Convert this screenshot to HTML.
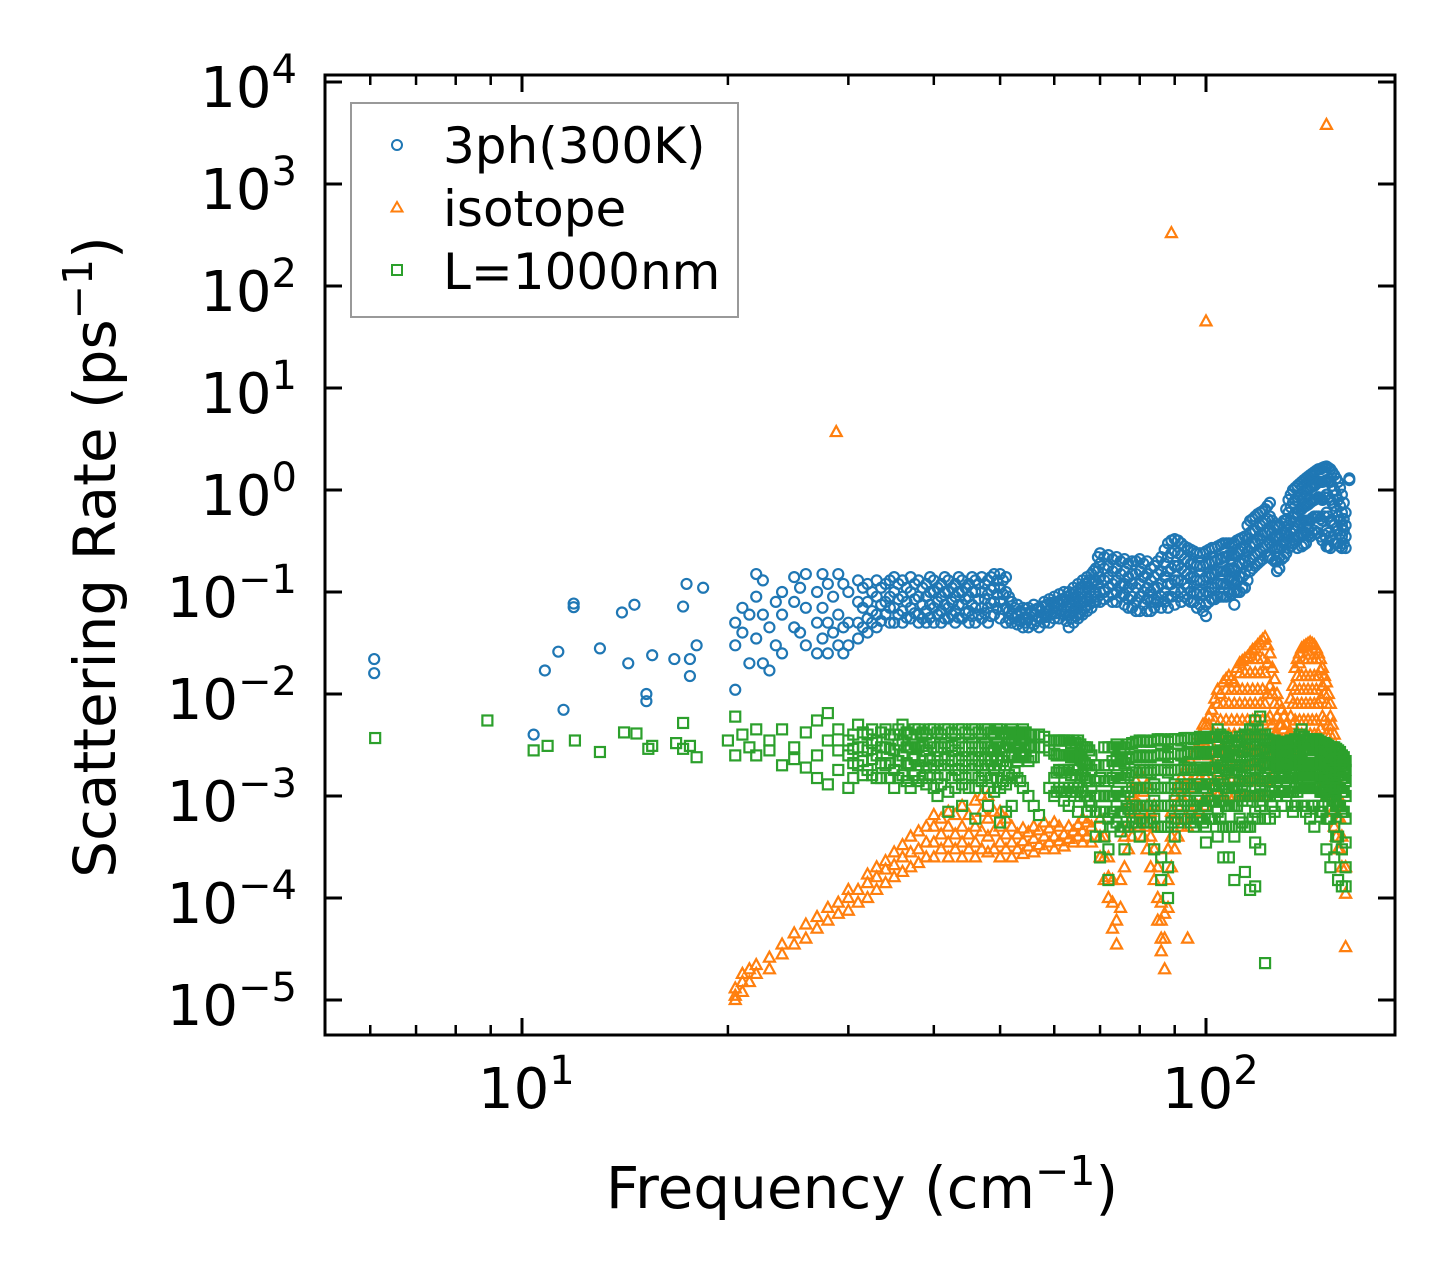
<!DOCTYPE html>
<html><head><meta charset="utf-8"><style>
html,body{margin:0;padding:0;background:#fff;}
svg{display:block;font-family:"DejaVu Sans","Liberation Sans",sans-serif;}
</style></head><body>
<svg id="chart" width="1455" height="1284" viewBox="0 0 1455 1284" xmlns="http://www.w3.org/2000/svg">
<g id="marks"></g>
<g id="axes"></g>
<g id="legend">
<rect x="351" y="103" width="387" height="214" fill="#fff" fill-opacity="0.8" stroke="#999" stroke-width="2"/>
<g><circle cx="397" cy="145" r="5" fill="none" stroke="#1f77b4" stroke-width="2"/><text x="443" y="163" font-size="50">3ph(300K)</text></g>
<g><path d="M397,202 L402.5,211.5 L391.5,211.5 Z" fill="none" stroke="#ff7f0e" stroke-width="2"/><text x="443" y="226" font-size="50">isotope</text></g>
<g><rect x="392" y="265" width="10" height="10" fill="none" stroke="#2ca02c" stroke-width="2"/><text x="443" y="289" font-size="50">L=1000nm</text></g>
</g>
<text x="862" y="1208" font-size="58" text-anchor="middle">Frequency (cm<tspan dy="-23" font-size="41">−1</tspan><tspan dy="23">)</tspan></text>
<text transform="translate(115,557) rotate(-90)" font-size="58" text-anchor="middle">Scattering Rate (ps<tspan dy="-23" font-size="41">−1</tspan><tspan dy="23">)</tspan></text>
</svg>
<script>
const blueData = [[6.08,[0.022,0.016]],[10.4,[0.004]],[10.8,[0.017]],[11.3,[0.026]],[11.5,[0.007]],[11.9,[0.077,0.071]],[13,[0.028]],[14,[0.063]],[14.3,[0.02]],[14.6,[0.075]],[15.2,[0.01,0.0085]],[15.5,[0.024]],[16.7,[0.022]],[17.2,[0.072]],[17.4,[0.12]],[17.6,[0.022,0.015]],[18,[0.03]],[18.4,[0.11]],
[20.5,[0.011,0.03,0.05]],[21,[0.04,0.07]],[21.5,[0.02,0.06]],[22,[0.035,0.15,0.09]],[22.5,[0.06,0.13,0.02]],[23,[0.017,0.045]],[23.5,[0.08,0.03]],[24,[0.06,0.1,0.025]],[25,[0.14,0.045,0.08]],[25.5,[0.11,0.04]],[26,[0.15,0.07,0.03]],[27,[0.1,0.05,0.025]],[27.5,[0.15,0.07,0.035]],[28,[0.12,0.025,0.05]],[28.5,[0.09,0.04]],[29,[0.15,0.06,0.03]],[29.5,[0.12,0.045,0.025]],[30,[0.1,0.05,0.03]],[31,[0.13,0.08,0.05,0.035]],[32,[0.12,0.08,0.055,0.04]],[33,[0.13,0.09,0.06,0.045]],[34,[0.12,0.08,0.06]],[35,[0.14,0.1,0.07,0.05]],[36,[0.13,0.09,0.065,0.05]],[37,[0.14,0.1,0.07,0.055]],[38,[0.13,0.09,0.06,0.05]],[39,[0.12,0.09,0.065,0.05]],[40,[0.13,0.1,0.07,0.05]],[41,[0.12,0.09,0.065,0.05]],[42,[0.13,0.1,0.07,0.055]],[43,[0.12,0.09,0.065,0.05]],[44,[0.13,0.1,0.075,0.055]],[45,[0.12,0.09,0.065,0.05]],[46,[0.13,0.1,0.07,0.05]],[47,[0.14,0.1,0.07,0.055]],[48,[0.13,0.095,0.07,0.05]],[49,[0.15,0.11,0.08,0.06]],[50,[0.15,0.11,0.08,0.055]],[51,[0.14,0.1,0.07,0.05]],[52,[0.08,0.06,0.05]],[53,[0.075,0.06,0.048]],[54,[0.07,0.055,0.045]],[55,[0.07,0.055,0.045]],[56,[0.075,0.06,0.048]],[57,[0.07,0.055,0.045]],[58,[0.08,0.062,0.05]],[59,[0.085,0.065,0.05]],[60,[0.09,0.07,0.055]],[61,[0.095,0.075,0.055]],[62,[0.1,0.08,0.06]],[63,[0.1,0.08,0.06,0.045]],[64,[0.11,0.085,0.065,0.05]],[65,[0.12,0.09,0.07,0.055]],[66,[0.13,0.1,0.08,0.06]],[67,[0.14,0.11,0.085,0.065]],[68,[0.15,0.12,0.09,0.07]],[69,[0.17,0.13,0.1,0.08]],[70,[0.24,0.19,0.14,0.1,0.08]],[72,[0.23,0.18,0.14,0.11,0.09]],[74,[0.22,0.17,0.13,0.1,0.08]],[76,[0.21,0.16,0.12,0.095,0.075]],[78,[0.2,0.15,0.12,0.09,0.07]],[80,[0.21,0.16,0.12,0.09,0.065]],[82,[0.2,0.15,0.11,0.085,0.065]],[84,[0.18,0.14,0.11,0.085,0.07]],[86,[0.22,0.16,0.12,0.09,0.07]],[88,[0.3,0.22,0.16,0.12,0.09,0.07]],[90,[0.33,0.25,0.18,0.13,0.1,0.075]],[92,[0.3,0.23,0.17,0.13,0.1,0.08]],[94,[0.27,0.2,0.15,0.11,0.085]],[96,[0.25,0.19,0.14,0.1,0.08]],[98,[0.24,0.18,0.13,0.1,0.075]],[100,[0.25,0.19,0.14,0.1,0.075,0.058]],[102,[0.27,0.2,0.15,0.11,0.085]],[104,[0.28,0.21,0.16,0.12,0.09]],[106,[0.3,0.22,0.16,0.12,0.09]],[108,[0.3,0.23,0.17,0.13,0.1]],[110,[0.3,0.23,0.17,0.13,0.1,0.075]],[112,[0.33,0.25,0.19,0.14,0.1]],[114,[0.35,0.27,0.2,0.15,0.11]],[116,[0.5,0.38,0.28,0.21,0.16]],[118,[0.55,0.4,0.3,0.23,0.18]],[120,[0.6,0.45,0.33,0.25,0.2]],[122,[0.65,0.5,0.38,0.28]],[124,[0.75,0.55,0.4,0.3,0.22]],[126,[0.45,0.35,0.27,0.2]],[128,[0.45,0.35,0.27,0.22,0.17]],[130,[0.5,0.38,0.3,0.22]],[132,[0.8,0.6,0.45,0.35,0.27]],[134,[1.0,0.75,0.55,0.4,0.3]],[136,[1.1,0.85,0.6,0.45,0.35,0.27]],[138,[1.2,0.9,0.65,0.48,0.36,0.28]],[140,[1.3,1.0,0.7,0.5,0.38,0.3]],[142,[1.4,1.05,0.75,0.5,0.35]],[144,[1.5,1.1,0.8,0.55,0.4]],[146,[1.6,1.2,0.85,0.55,0.38]],[148,[1.65,1.2,0.8,0.5,0.32]],[150,[1.7,1.25,0.9,0.6,0.4,0.28]],[152,[1.6,1.2,0.8,0.5,0.35,0.27]],[154,[1.4,1.0,0.7,0.45,0.3]],[156,[1.2,0.8,0.55,0.4,0.3]],[158,[0.9,0.6,0.45,0.35,0.27]],[160,[0.6,0.45,0.35,0.27]],[162,[1.3,1.25]]];
const blueDataExtra = [[31.5,[0.11,0.07,0.045]],[32.5,[0.1,0.065,0.05]],[33.5,[0.11,0.075,0.052]],[34.5,[0.13,0.09,0.07,0.05]],[35.5,[0.12,0.085,0.06]],[36.5,[0.11,0.08,0.056]],[37.5,[0.12,0.085,0.062]],[38.5,[0.11,0.075,0.055]],[39.5,[0.14,0.1,0.075,0.056]],[40.5,[0.11,0.08,0.06]],[41.5,[0.14,0.1,0.075,0.055]],[42.5,[0.11,0.08,0.06]],[43.5,[0.14,0.1,0.075,0.056]],[44.5,[0.11,0.085,0.062]],[45.5,[0.14,0.1,0.075,0.058]],[46.5,[0.12,0.085,0.06]],[47.5,[0.12,0.085,0.062]],[48.5,[0.14,0.105,0.078,0.058]],[49.5,[0.13,0.095,0.07]],[50.5,[0.13,0.095,0.068]],[51.5,[0.09,0.065,0.055]],[52.5,[0.07,0.055]],[53.5,[0.065,0.052]],[54.5,[0.062,0.05]],[55.5,[0.065,0.05]],[56.5,[0.068,0.052]],[57.5,[0.072,0.055]],[58.5,[0.075,0.057]],[59.5,[0.078,0.06]],[60.5,[0.08,0.062]],[61.5,[0.085,0.065]],[62.5,[0.09,0.07,0.052]],[63.5,[0.095,0.072,0.055]],[64.5,[0.1,0.078,0.058]],[65.5,[0.11,0.08,0.062]],[66.5,[0.12,0.09,0.07]],[67.5,[0.13,0.1,0.075]],[68.5,[0.16,0.13,0.1,0.08]],[69.5,[0.22,0.16,0.12,0.09]],
[71,[0.22,0.17,0.13,0.1,0.085]],[73,[0.21,0.16,0.12,0.095,0.08]],[75,[0.2,0.15,0.115,0.09]],[77,[0.19,0.14,0.11,0.085,0.07]],[79,[0.2,0.15,0.11,0.08,0.065]],[81,[0.19,0.14,0.1,0.075]],[83,[0.17,0.13,0.1,0.08,0.065]],[85,[0.2,0.15,0.11,0.08]],[87,[0.26,0.19,0.14,0.1,0.08]],[89,[0.32,0.24,0.17,0.12,0.09]],[91,[0.32,0.24,0.18,0.13,0.09]],[93,[0.28,0.21,0.16,0.12,0.09]],[95,[0.26,0.19,0.14,0.1,0.08]],[97,[0.24,0.18,0.13,0.095,0.07]],[99,[0.24,0.18,0.13,0.095,0.065]],[101,[0.26,0.19,0.14,0.1,0.08]],[103,[0.27,0.2,0.15,0.11,0.085]],[105,[0.29,0.21,0.16,0.12,0.09]],[107,[0.3,0.22,0.16,0.12,0.09]],[109,[0.3,0.23,0.17,0.13,0.095]],[111,[0.32,0.24,0.18,0.13,0.1]],[113,[0.34,0.26,0.19,0.14,0.11]],[115,[0.45,0.33,0.25,0.18,0.13]],[117,[0.52,0.4,0.3,0.22,0.17]],[119,[0.58,0.43,0.32,0.24,0.19]],[121,[0.62,0.47,0.36,0.27,0.21]],[123,[0.7,0.52,0.39,0.29,0.22]],[125,[0.5,0.38,0.28,0.21]],[127,[0.45,0.35,0.27,0.2,0.16]],[129,[0.47,0.36,0.28,0.21]],[131,[0.65,0.5,0.38,0.3,0.24]],[133,[0.9,0.68,0.5,0.38,0.28]],[135,[1.05,0.8,0.58,0.42,0.32]],[137,[1.15,0.88,0.63,0.47,0.35]],[139,[1.25,0.95,0.68,0.5,0.37,0.29]],[141,[1.35,1.0,0.72,0.5,0.36]],[143,[1.45,1.08,0.78,0.53,0.38]],[145,[1.55,1.15,0.82,0.55,0.38]],[147,[1.6,1.2,0.82,0.52,0.35]],[149,[1.68,1.22,0.85,0.55,0.36]],[151,[1.65,1.22,0.85,0.55,0.38,0.28]],[153,[1.5,1.1,0.75,0.48,0.32]],[155,[1.3,0.9,0.62,0.42,0.3]],[157,[1.05,0.7,0.5,0.37,0.28]],[159,[0.75,0.52,0.4,0.3]]];
const orangeData = [[20.5,[1e-5,1.1e-5,1.3e-5]],[21,[1.2e-5,1.5e-5,1.8e-5]],[21.5,[1.5e-5,2e-5]],[22,[1.8e-5,2.2e-5]],[23,[2e-5,2.6e-5]],[24,[2.8e-5,3.5e-5]],[25,[3.5e-5,4.5e-5]],[26,[4e-5,5.5e-5]],[27,[5e-5,6.5e-5]],[28,[6e-5,8e-5]],[28.8,[3.7]],[29,[7e-5,9e-5]],[30,[7.5e-5,1e-4,1.2e-4]],[31,[9e-5,1.2e-4]],[32,[1e-4,1.4e-4,1.7e-4]],[33,[1.2e-4,1.6e-4,2e-4]],[34,[1.4e-4,1.9e-4,2.3e-4]],[35,[1.6e-4,2.1e-4,2.8e-4]],[36,[1.8e-4,2.5e-4,3.3e-4]],[37,[2e-4,2.8e-4,4e-4]],[38,[2.2e-4,3e-4,4.5e-4]],[39,[2.5e-4,3.5e-4,5e-4]],[40,[2.5e-4,3.5e-4,5e-4,6.5e-4]],[42,[2.5e-4,3.5e-4,5e-4,7e-4]],[44,[2.5e-4,3.5e-4,5e-4,8e-4]],[46,[2.5e-4,3.5e-4,5e-4,9e-4]],[48,[2.8e-4,4e-4,6e-4,1e-3]],[50,[2.5e-4,3.5e-4,5e-4,7e-4]],[52,[2.5e-4,3.5e-4,5e-4]],[54,[2.7e-4,3.6e-4,4.8e-4]],[56,[2.8e-4,3.8e-4,5e-4]],[58,[3e-4,4e-4,5.5e-4]],[60,[3e-4,4e-4,5.5e-4]],[62,[3.2e-4,4.2e-4]],[64,[3.5e-4,4.5e-4]],[66,[3.5e-4,4.5e-4,6e-4]],[68,[3.5e-4,5e-4]],[70,[2.5e-4,4e-4,6e-4]],[71,[1.5e-4,2.5e-4,4e-4]],[72,[1e-4,1.6e-4,2.5e-4]],[73,[5e-5,9e-5,1.5e-4]],[74,[3.5e-5,6e-5]],[75,[8e-5,1.5e-4]],[76,[2e-4,4e-4]],[78,[4e-4,7e-4,1e-3]],[80,[5e-4,8e-4,1.2e-3,1.7e-3]],[82,[3e-4,5e-4,8e-4,1.3e-3]],[84,[1.5e-4,3e-4,5e-4,8e-4]],[85,[6e-5,1e-4,2e-4]],[86,[3e-5,4e-5,6e-5,9e-5]],[87,[2e-5,4e-5,7e-5]],[88,[8e-5,1.5e-4,3e-4]],[89,[2e-4,4e-4,7e-4,330]],[90,[3e-4,6e-4,1e-3]],[92,[5e-4,1e-3,1.5e-3]],[94,[4e-5,5e-4,1e-3,2e-3]],[96,[6e-4,1.2e-3,2.5e-3]],[98,[7e-4,1.5e-3,3e-3,4e-3]],[100,[8e-4,1.5e-3,3e-3,5e-3,45]],[102,[1e-3,2e-3,4e-3,7e-3]],[104,[1e-3,2e-3,4e-3,8e-3,1.1e-2]],[106,[1e-3,2e-3,4e-3,8e-3,1.3e-2]],[108,[1e-3,2e-3,4e-3,8e-3,1.5e-2]],[110,[1e-3,2e-3,4e-3,8e-3,1.3e-2]],[112,[1e-3,2e-3,4e-3,8e-3,1.6e-2,2e-2]],[114,[1e-3,2e-3,4e-3,8e-3,1.6e-2,2.2e-2]],[116,[1e-3,2e-3,4e-3,8e-3,1.6e-2,2.5e-2]],[118,[1e-3,2e-3,4e-3,8e-3,1.6e-2,2.8e-2]],[120,[1e-3,2e-3,4e-3,8e-3,1.6e-2,3.2e-2]],[122,[1e-3,2e-3,4e-3,8e-3,1.6e-2,3.6e-2]],[124,[1.5e-3,3e-3,6e-3,1.2e-2,2.5e-2]],[126,[2e-3,4e-3,8e-3,1.4e-2]],[128,[2e-3,3e-3,5e-3,8e-3]],[130,[2e-3,3e-3,4.5e-3,6e-3]],[132,[2e-3,3e-3,4e-3]],[134,[2e-3,3e-3,5e-3,8e-3,1.2e-2]],[136,[2e-3,4e-3,8e-3,1.5e-2,2.2e-2]],[138,[2e-3,4e-3,8e-3,1.5e-2,2.8e-2]],[140,[2e-3,4e-3,8e-3,1.5e-2,3e-2]],[142,[2e-3,4e-3,8e-3,1.5e-2,3.2e-2]],[144,[2e-3,4e-3,8e-3,1.5e-2,3e-2]],[146,[2e-3,4e-3,8e-3,1.5e-2,2.5e-2]],[148,[1.5e-3,3e-3,6e-3,1.2e-2,1.8e-2]],[150,[1e-3,2e-3,4e-3,8e-3,1.3e-2,3800]],[152,[1e-3,2e-3,4e-3,6e-3,8e-3]],[154,[5e-4,1e-3,2e-3,4e-3]],[156,[3e-4,6e-4,1e-3,2e-3]],[158,[2e-4,4e-4,8e-4]],[160,[1.1e-4,2e-4,3.3e-5]]];
const orangeDataExtra = [[41,[3e-4,4.2e-4,6e-4]],[43,[3e-4,4.2e-4,6.5e-4]],[45,[3e-4,4.2e-4,6.5e-4]],[47,[3e-4,4.5e-4,7e-4,1e-3]],[49,[3e-4,4.5e-4,7e-4]],[51,[3e-4,4.2e-4,6e-4]],[53,[3e-4,4.2e-4]],[55,[3.2e-4,4.4e-4]],[57,[3.3e-4,4.6e-4]],[59,[3.5e-4,4.8e-4]],[61,[3.6e-4,5e-4]],[63,[3.8e-4,5e-4]],[65,[4e-4,5.2e-4]],[67,[4e-4,5.5e-4]],[77,[3e-4,5e-4,8e-4]],[79,[5e-4,9e-4,1.4e-3]],[81,[4e-4,7e-4,1.1e-3]],[83,[2e-4,4e-4,7e-4]],[91,[4e-4,8e-4,1.3e-3]],[93,[6e-4,1.2e-3,1.8e-3]],[95,[7e-4,1.4e-3,2.2e-3]],[97,[8e-4,1.6e-3,3e-3]],[99,[9e-4,1.8e-3,3.5e-3,5e-3]],[101,[1e-3,2.5e-3,5e-3,6e-3]],[103,[1.4e-3,2.8e-3,5.5e-3,9e-3]],[105,[1.4e-3,2.8e-3,5.5e-3,1e-2]],[107,[1.4e-3,2.8e-3,5.5e-3,1.1e-2,1.4e-2]],[109,[1.4e-3,2.8e-3,5.5e-3,1.1e-2,1.4e-2]],[111,[1.4e-3,2.8e-3,5.5e-3,1.1e-2,1.8e-2]],[113,[1.4e-3,2.8e-3,5.5e-3,1.1e-2,2.1e-2]],[115,[1.4e-3,2.8e-3,5.5e-3,1.1e-2,2.3e-2]],[117,[1.4e-3,2.8e-3,5.5e-3,1.1e-2,2.2e-2,2.7e-2]],[119,[1.4e-3,2.8e-3,5.5e-3,1.1e-2,2.2e-2,3e-2]],[121,[1.4e-3,2.8e-3,5.5e-3,1.1e-2,2.2e-2,3.4e-2]],[123,[1.4e-3,2.8e-3,5.5e-3,1e-2,2e-2,3e-2]],[125,[2.5e-3,5e-3,1e-2,1.8e-2]],[127,[2.5e-3,4e-3,6e-3,1e-2]],[129,[2.5e-3,3.5e-3,5e-3,7e-3]],[131,[2.5e-3,3.5e-3,5e-3]],[133,[2.5e-3,4e-3,6e-3,9e-3]],[135,[2.8e-3,5.5e-3,1.1e-2,1.8e-2]],[137,[2.8e-3,5.5e-3,1.1e-2,2e-2,2.5e-2]],[139,[2.8e-3,5.5e-3,1.1e-2,2.2e-2,2.9e-2]],[141,[2.8e-3,5.5e-3,1.1e-2,2.2e-2,3.1e-2]],[143,[2.8e-3,5.5e-3,1.1e-2,2.2e-2,3.1e-2]],[145,[2.8e-3,5.5e-3,1.1e-2,2.2e-2,2.8e-2]],[147,[2.2e-3,4.5e-3,9e-3,1.7e-2,2.2e-2]],[149,[1.4e-3,2.8e-3,5.5e-3,1e-2,1.5e-2]],[151,[1.4e-3,2.8e-3,5e-3,1e-2]],[153,[7e-4,1.4e-3,2.8e-3,5e-3]],[155,[4e-4,8e-4,1.5e-3,3e-3]],[157,[3e-4,6e-4,1.2e-3]]];
const greenData = [[6.1,[0.0037]],[8.9,[0.0055]],[10.4,[0.0028]],[10.9,[0.0031]],[11.95,[0.0035]],[13,[0.0027]],[14.1,[0.0042]],[14.7,[0.0041]],[15.3,[0.0029]],[15.5,[0.0031]],[16.8,[0.0033]],[17.2,[0.0052,0.0029]],[17.6,[0.0031]],[18,[0.0024]],[20,[0.0035]],[20.5,[0.006,0.0025]],[21,[0.004]],[21.5,[0.003]],[22,[0.0045,0.0025]],[23,[0.0035,0.0028]],[24,[0.0045,0.002]],[25,[0.003,0.0023]],[26,[0.0042,0.0019]],[27,[0.0055,0.0025,0.0015]],[28,[0.0035,0.0065,0.0013]],[29,[0.0045,0.0028,0.0018]],[30,[0.0035,0.0025,0.0012]],[31,[0.005,0.003,0.002]],[32,[0.004,0.0028,0.0018]],[33,[0.0035,0.0025,0.0015]],[34,[0.0045,0.003,0.002]],[35,[0.004,0.0028,0.0018,0.0012]],[36,[0.005,0.0035,0.0025,0.0016]],[37,[0.004,0.003,0.002,0.0012]],[38,[0.0045,0.003,0.002,0.0014]],[39,[0.004,0.0028,0.0019,0.0013]],[40,[0.0045,0.003,0.002,0.0012]],[41,[0.004,0.003,0.002,0.0013]],[42,[0.0045,0.003,0.002,0.0011,7e-4]],[43,[0.004,0.0028,0.0018,0.0012]],[44,[0.0045,0.003,0.002,0.0013,8e-4]],[45,[0.004,0.003,0.002,0.0012]],[46,[0.0045,0.003,0.002,0.0012,6e-4]],[47,[0.004,0.003,0.002,0.0014]],[48,[0.0045,0.003,0.002,0.0012,8e-4]],[49,[0.004,0.0028,0.0018,0.0011]],[50,[0.0045,0.003,0.002,0.0012,5.5e-4]],[51,[0.004,0.003,0.002,0.0013,7e-4]],[52,[0.0045,0.0035,0.0025,0.0015,8e-4]],[53,[0.004,0.003,0.0022,0.0015]],[54,[0.0045,0.0035,0.0025,0.0012]],[55,[0.004,0.003,0.0022,0.001]],[56,[0.004,0.003,0.0024,8e-4]],[57,[0.004,0.003,6.5e-4]],[58,[0.0038,0.003]],[59,[0.0035,0.0028,0.0012]],[60,[0.0035,0.0026,0.0015,0.001]],[61,[0.0035,0.0025,0.0018,0.0012]],[62,[0.0035,0.0025,0.0018,0.0012,9e-4]],[63,[0.0035,0.0025,0.0018,0.0012,8e-4]],[64,[0.0035,0.0025,0.0018,0.0012]],[65,[0.0035,0.0025,0.0018,0.0012,7e-4]],[66,[0.003,0.0022,0.0016,0.0011]],[67,[0.003,0.002,0.0014,0.001,7e-4]],[68,[0.0025,0.0018,0.0012,8e-4]],[69,[0.002,0.0014,0.001,7e-4,4e-4]],[70,[0.0015,0.001,7e-4,5e-4,2.5e-4]],[71,[0.003,0.002,0.0014,0.001,7e-4,4e-4]],[72,[0.003,0.002,0.0014,0.001,6e-4,3e-4,1.5e-4]],[74,[0.0032,0.0023,0.0016,0.0011,8e-4,5.5e-4]],[76,[0.003,0.0021,0.0015,0.001,7e-4,5e-4,3e-4]],[78,[0.0033,0.0024,0.0017,0.0012,8e-4,5.5e-4]],[80,[0.0035,0.0025,0.0018,0.0012,8e-4,6e-4,4e-4]],[82,[0.0034,0.0024,0.0017,0.0012,8e-4,5.5e-4]],[84,[0.0035,0.0025,0.0018,0.0013,9e-4,6e-4,3e-4]],[86,[0.0036,0.0026,0.0018,0.0012,8e-4,5e-4,2.5e-4,1.5e-4]],[88,[0.0034,0.0024,0.0017,0.0012,8e-4,5e-4,2e-4,1e-4]],[90,[0.0036,0.0026,0.0018,0.0013,9e-4,6e-4,4e-4]],[92,[0.0035,0.0025,0.0018,0.0012,8e-4,6e-4]],[94,[0.0037,0.0027,0.0019,0.0013,9e-4,6e-4]],[96,[0.0036,0.0026,0.0018,0.0012,8e-4,5e-4]],[98,[0.0038,0.0027,0.0019,0.0013,9e-4,6e-4]],[100,[0.0037,0.0026,0.0018,0.0012,8e-4,5e-4,3.5e-4]],[102,[0.0038,0.0027,0.0019,0.0013,9e-4,6e-4]],[104,[0.0045,0.0032,0.0022,0.0015,0.001,7e-4,4e-4]],[106,[0.0038,0.0027,0.0019,0.0013,9e-4,5e-4,2.5e-4]],[108,[0.0035,0.0025,0.0018,0.0012,8e-4,5e-4,2.5e-4]],[110,[0.0032,0.0024,0.0017,0.0012,8e-4,4e-4,1.5e-4]],[112,[0.0038,0.0028,0.002,0.0014,0.001,6e-4]],[114,[0.004,0.003,0.002,0.0014,0.001,5e-4,1.8e-4]],[116,[0.0045,0.0032,0.0022,0.0015,0.001,5e-4,1.2e-4]],[118,[0.0055,0.0038,0.0026,0.0018,0.0012,7e-4,3.5e-4,1.3e-4]],[120,[0.006,0.004,0.0028,0.0019,0.0013,8e-4,3e-4]],[122,[0.004,0.003,0.0021,0.0015,0.001,6e-4,2.3e-5]],[124,[0.0035,0.0027,0.002,0.0014,0.001,6e-4]],[126,[0.0035,0.0027,0.002,0.0015,0.0011,7e-4]],[128,[0.0033,0.0026,0.002,0.0015,0.0011]],[130,[0.0033,0.0026,0.002,0.0015,0.0011]],[132,[0.0033,0.0026,0.002,0.0015,0.0011]],[134,[0.0034,0.0027,0.002,0.0015,0.0011,7e-4]],[136,[0.0035,0.0028,0.002,0.0015,0.0011,8e-4]],[138,[0.0045,0.0032,0.0022,0.0016,0.0012,8e-4]],[140,[0.0035,0.0028,0.0021,0.0016,0.0012,7e-4]],[142,[0.0035,0.0028,0.0021,0.0016,0.0012,6e-4]],[144,[0.0035,0.0028,0.0021,0.0016,0.0012,8e-4,5e-4]],[146,[0.0035,0.0028,0.0021,0.0016,0.0012,8e-4]],[148,[0.0033,0.0026,0.002,0.0015,0.0011,7e-4]],[150,[0.0032,0.0025,0.0019,0.0014,0.001,6e-4,3e-4]],[152,[0.003,0.0024,0.0018,0.0014,0.001,6e-4,2e-4]],[154,[0.003,0.0023,0.0017,0.0013,9e-4,5e-4,2.5e-4]],[156,[0.0028,0.0022,0.0016,0.0012,8e-4,4e-4,1.5e-4]],[158,[0.0025,0.002,0.0015,0.0011,7e-4,3e-4,1.3e-4]],[160,[0.0022,0.0018,0.0014,0.001,6e-4,3.5e-4,2e-4,1.3e-4]]];
const greenDataExtra = [[30.5,[0.004,0.0029,0.0021,0.0015]],[31.5,[0.0042,0.003,0.0022,0.0016]],[32.5,[0.0045,0.0033,0.0023,0.0016]],[33.5,[0.0042,0.003,0.0021,0.0015]],[34.5,[0.004,0.0029,0.0021,0.0015]],[35.5,[0.0045,0.0032,0.0022,0.0015]],[36.5,[0.0042,0.003,0.0021,0.0014]],[37.5,[0.0045,0.0032,0.0023,0.0016]],[38.5,[0.0042,0.0031,0.0022,0.0015]],[39.5,[0.0045,0.0033,0.0023,0.0016]],[40.5,[0.0042,0.003,0.0022,0.0015,0.001]],[41.5,[0.0045,0.0033,0.0023,0.0016]],[42.5,[0.0042,0.0031,0.0022,0.0015]],[43.5,[0.0045,0.0033,0.0023,0.0016]],[44.5,[0.0042,0.003,0.0022,0.0015]],[45.5,[0.0045,0.0033,0.0023,0.0016]],[46.5,[0.0042,0.003,0.0022,0.0015]],[47.5,[0.0045,0.0033,0.0023,0.0016]],[48.5,[0.0042,0.003,0.0022,0.0015]],[49.5,[0.0045,0.0033,0.0023,0.0015]],[50.5,[0.0042,0.003,0.0022,0.0014]],[51.5,[0.0042,0.0032,0.0024,0.0016]],[52.5,[0.0042,0.0033,0.0025,0.0017]],[53.5,[0.0042,0.0032,0.0024,0.0014]],[54.5,[0.0042,0.0032,0.0024]],[55.5,[0.004,0.0031,0.0024]],[60.5,[0.0035,0.0025,0.0017,0.0011]],[61.5,[0.0035,0.0025,0.0017,0.0011]],[62.5,[0.0035,0.0025,0.0017,0.0011]],[63.5,[0.0033,0.0024,0.0016,0.0011]],[64.5,[0.0033,0.0024,0.0016,0.0011]],[65.5,[0.0032,0.0023,0.0015,0.001]],[66.5,[0.003,0.0021,0.0015,0.001]],[67.5,[0.0028,0.002,0.0014,9e-4]],
[73,[0.003,0.0022,0.0015,0.001,7e-4,5e-4]],[75,[0.003,0.0022,0.0015,0.001,7e-4,4.5e-4]],[77,[0.0032,0.0023,0.0016,0.0011,7.5e-4,5e-4]],[79,[0.0034,0.0024,0.0017,0.0012,8e-4,5.5e-4]],[81,[0.0035,0.0025,0.0018,0.0012,8e-4,5.5e-4]],[83,[0.0034,0.0024,0.0017,0.0012,8e-4,5.5e-4]],[85,[0.0036,0.0025,0.0018,0.0012,8e-4,5e-4]],[87,[0.0035,0.0025,0.0018,0.0012,8e-4,5e-4]],[89,[0.0036,0.0026,0.0018,0.0012,8e-4,5.5e-4]],[91,[0.0036,0.0026,0.0018,0.0012,8e-4,5.5e-4]],[93,[0.0037,0.0026,0.0019,0.0013,9e-4,6e-4]],[95,[0.0037,0.0026,0.0018,0.0012,8e-4,5.5e-4]],[97,[0.0037,0.0026,0.0019,0.0013,9e-4,6e-4]],[99,[0.0037,0.0026,0.0018,0.0012,8e-4,5.5e-4]],[101,[0.0038,0.0027,0.0019,0.0013,9e-4,6e-4]],[103,[0.0038,0.0027,0.0019,0.0013,9e-4,6e-4]],[105,[0.004,0.0028,0.002,0.0014,9e-4,6e-4]],[107,[0.0037,0.0026,0.0018,0.0012,8e-4,5e-4]],[109,[0.0034,0.0024,0.0017,0.0012,8e-4,5e-4]],[111,[0.0035,0.0025,0.0018,0.0012,8e-4]],[113,[0.0038,0.0027,0.0019,0.0013,9e-4,5.5e-4]],[115,[0.004,0.0029,0.002,0.0014,9e-4,5e-4]],[117,[0.0045,0.0032,0.0022,0.0015,0.001,6e-4]],[119,[0.0045,0.0032,0.0022,0.0015,0.001,6e-4]],[121,[0.004,0.0029,0.002,0.0014,9e-4]],[123,[0.0036,0.0027,0.002,0.0014,0.001]],[125,[0.0034,0.0026,0.002,0.0015,0.0011,8e-4]],[127,[0.0033,0.0025,0.0019,0.0014,0.001]],[129,[0.0034,0.0026,0.002,0.0015,0.0011,8e-4]],[131,[0.0033,0.0025,0.0019,0.0014,0.001]],[133,[0.0035,0.0027,0.002,0.0015,0.0011]],[135,[0.0036,0.0028,0.0021,0.0016,0.0012,8e-4]],[137,[0.004,0.003,0.0022,0.0016,0.0012]],[139,[0.0038,0.0029,0.0021,0.0016,0.0012,8e-4]],[141,[0.0036,0.0028,0.0021,0.0016,0.0012]],[143,[0.0036,0.0028,0.0021,0.0016,0.0012,8e-4]],[145,[0.0036,0.0028,0.0021,0.0016,0.0012]],[147,[0.0034,0.0027,0.002,0.0015,0.0011,7e-4]],[149,[0.0033,0.0026,0.002,0.0015,0.0011]],[151,[0.0031,0.0025,0.0019,0.0014,0.001,6e-4]],[153,[0.003,0.0024,0.0018,0.0013,9e-4]],[155,[0.0029,0.0023,0.0017,0.0012,8e-4,4e-4]],[157,[0.0027,0.0021,0.0016,0.0012,8e-4]],[159,[0.0024,0.0019,0.0015,0.0011,7e-4]]];
const yTickExps = [-5,-4,-3,-2,-1,0,1,2,3,4];
const xTickExps = [1,2];
const xMinorTicks = [6,7,8,9,20,30,40,50,60,70,80,90];

const NS = 'http://www.w3.org/2000/svg';
const PL = 325, PR = 1395, PT = 75, PB = 1035;
const X0 = 522, XDEC = 684, Y0 = 490, YDEC = 102;
function xs(f){ return X0 + (Math.log10(f) - 1) * XDEC; }
function ys(r){ return Y0 - Math.log10(r) * YDEC; }
function mk(tag, attrs, parent){ const e = document.createElementNS(NS, tag); for (const k in attrs) e.setAttribute(k, attrs[k]); parent.appendChild(e); return e; }

const marks = document.getElementById('marks');
const gB = mk('g', {fill:'none', stroke:'#1f77b4', 'stroke-width':2.2}, marks);


const gO = mk('g', {fill:'none', stroke:'#ff7f0e', 'stroke-width':2.2}, marks);


const gG = mk('g', {fill:'none', stroke:'#2ca02c', 'stroke-width':2.2}, marks);



blueData.concat(blueDataExtra).forEach(([f, rs]) => rs.forEach(r => {
  const c = mk('circle', {cx: xs(f), cy: ys(r), r: 5}, gB);
  
  
}));
orangeData.concat(orangeDataExtra).forEach(([f, rs]) => rs.forEach(r => {
  const x = xs(f), y = ys(r);
  const p = mk('path', {d: `M${x},${y-6} L${x+5.5},${y+4} L${x-5.5},${y+4} Z`}, gO);
  
  
}));
greenData.concat(greenDataExtra).forEach(([f, rs]) => rs.forEach(r => {
  const q = mk('rect', {x: xs(f)-5, y: ys(r)-5, width: 10, height: 10}, gG);
  
  
}));

const axes = document.getElementById('axes');
const frame = mk('rect', {x:PL, y:PT, width:PR-PL, height:PB-PT, fill:'none', stroke:'#000', 'stroke-width':3}, axes);


yTickExps.forEach(e => {
  const y = ys(Math.pow(10, e));
  mk('line', {x1:PL, x2:PL+17, y1:y, y2:y, stroke:'#000', 'stroke-width':3}, axes);
  mk('line', {x1:PR, x2:PR-17, y1:y, y2:y, stroke:'#000', 'stroke-width':3}, axes);
  const t = mk('text', {x:297, y:y+25, 'font-size':56, 'text-anchor':'end'}, axes);
  
  
  t.innerHTML = '10<tspan dy="-24" font-size="40">' + (e < 0 ? '−' + (-e) : e) + '</tspan>';
});
xTickExps.forEach(e => {
  const x = xs(Math.pow(10, e));
  mk('line', {x1:x, x2:x, y1:PB, y2:PB-17, stroke:'#000', 'stroke-width':3}, axes);
  mk('line', {x1:x, x2:x, y1:PT, y2:PT+17, stroke:'#000', 'stroke-width':3}, axes);
  const t = mk('text', {x:x-44, y:1108, 'font-size':56, 'text-anchor':'start'}, axes);
  
  
  t.innerHTML = '10<tspan dy="-24" font-size="40">' + e + '</tspan>';
});
xMinorTicks.forEach(f => {
  const x = xs(f);
  mk('line', {x1:x, x2:x, y1:PB, y2:PB-10, stroke:'#000', 'stroke-width':2.5}, axes);
  mk('line', {x1:x, x2:x, y1:PT, y2:PT+10, stroke:'#000', 'stroke-width':2.5}, axes);
});
</script>
</body></html>
